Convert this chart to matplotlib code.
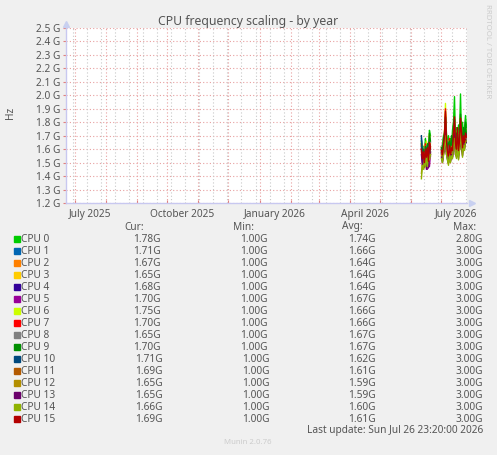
import matplotlib
matplotlib.use('Agg')
import matplotlib.pyplot as plt
import numpy as np
import pandas as pd

plt.rcParams['font.family'] = ['Noto Sans', 'DejaVu Sans']

# ---- data ----
names = ['CPU %d' % i for i in range(16)]
colors = ['#00CC00', '#0066B3', '#FF8000', '#FFCC00', '#330099', '#990099', '#CCFF00', '#FF0000',
          '#808080', '#008F00', '#00487D', '#B35A00', '#B38F00', '#6B006B', '#8FB300', '#B30000']
cur = ['1.78G', '1.71G', '1.67G', '1.65G', '1.68G', '1.70G', '1.75G', '1.70G',
       '1.65G', '1.70G', '1.71G', '1.69G', '1.65G', '1.65G', '1.66G', '1.69G']
mins = ['1.00G'] * 16
avgs = ['1.74G', '1.66G', '1.64G', '1.64G', '1.64G', '1.67G', '1.66G', '1.66G',
        '1.67G', '1.67G', '1.62G', '1.61G', '1.59G', '1.59G', '1.60G', '1.61G']
maxs = ['2.80G'] + ['3.00G'] * 15

days1 = pd.date_range('2026-06-11 12:00', periods=10, freq='D')
days2 = pd.date_range('2026-07-01 12:00', periods=26, freq='D')

seg1 = [
    [1.66, 1.58, 1.62, 1.56, 1.68, 1.60, 1.64, 1.58, 1.74, 1.70],
    [1.68, 1.56, 1.50, 1.62, 1.58, 1.55, 1.60, 1.52, 1.66, 1.60],
    [1.64, 1.52, 1.58, 1.50, 1.61, 1.56, 1.50, 1.64, 1.58, 1.61],
    [1.60, 1.55, 1.49, 1.60, 1.54, 1.62, 1.53, 1.64, 1.70, 1.62],
    [1.62, 1.50, 1.56, 1.48, 1.58, 1.52, 1.56, 1.48, 1.63, 1.58],
    [1.60, 1.54, 1.46, 1.57, 1.50, 1.56, 1.45, 1.58, 1.47, 1.56],
    [1.65, 1.58, 1.52, 1.63, 1.60, 1.66, 1.55, 1.62, 1.71, 1.64],
    [1.63, 1.57, 1.51, 1.59, 1.64, 1.56, 1.60, 1.53, 1.66, 1.62],
    [1.66, 1.60, 1.53, 1.61, 1.57, 1.63, 1.55, 1.65, 1.69, 1.65],
    [1.64, 1.57, 1.60, 1.52, 1.62, 1.56, 1.64, 1.58, 1.72, 1.66],
    [1.70, 1.56, 1.49, 1.57, 1.53, 1.59, 1.50, 1.60, 1.64, 1.58],
    [1.58, 1.52, 1.47, 1.55, 1.58, 1.50, 1.56, 1.49, 1.63, 1.57],
    [1.42, 1.50, 1.56, 1.46, 1.57, 1.52, 1.48, 1.58, 1.54, 1.56],
    [1.56, 1.48, 1.54, 1.47, 1.55, 1.45, 1.53, 1.46, 1.60, 1.55],
    [1.38, 1.48, 1.45, 1.53, 1.47, 1.56, 1.47, 1.58, 1.52, 1.56],
    [1.60, 1.53, 1.58, 1.50, 1.60, 1.54, 1.61, 1.51, 1.65, 1.60],
]

seg2 = [
    [1.62, 1.60, 1.70, 1.64, 1.84, 1.72, 1.62, 1.70, 1.60, 1.68, 1.62, 1.74, 1.80, 1.99, 1.66, 1.76, 1.64, 1.78, 1.70, 2.01, 1.68, 1.80, 1.70, 1.76, 1.85, 1.76],
    [1.60, 1.55, 1.64, 1.58, 1.80, 1.60, 1.56, 1.50, 1.66, 1.55, 1.64, 1.56, 1.68, 1.76, 1.58, 1.66, 1.56, 1.68, 1.60, 1.78, 1.64, 1.70, 1.60, 1.68, 1.64, 1.68],
    [1.58, 1.62, 1.56, 1.69, 1.82, 1.60, 1.66, 1.56, 1.63, 1.58, 1.66, 1.59, 1.74, 1.70, 1.63, 1.58, 1.70, 1.62, 1.65, 1.80, 1.60, 1.71, 1.64, 1.70, 1.65, 1.67],
    [1.59, 1.57, 1.66, 1.71, 1.86, 1.62, 1.59, 1.65, 1.57, 1.62, 1.56, 1.66, 1.71, 1.80, 1.60, 1.68, 1.72, 1.59, 1.70, 1.82, 1.66, 1.61, 1.72, 1.64, 1.71, 1.66],
    [1.57, 1.52, 1.60, 1.66, 1.78, 1.58, 1.57, 1.53, 1.62, 1.55, 1.60, 1.54, 1.68, 1.75, 1.56, 1.62, 1.58, 1.66, 1.60, 1.77, 1.70, 1.60, 1.66, 1.62, 1.70, 1.68],
    [1.56, 1.53, 1.58, 1.64, 1.76, 1.56, 1.62, 1.53, 1.58, 1.51, 1.60, 1.56, 1.67, 1.74, 1.66, 1.55, 1.67, 1.56, 1.64, 1.76, 1.62, 1.58, 1.67, 1.63, 1.69, 1.70],
    [1.62, 1.59, 1.64, 1.72, 1.94, 1.68, 1.61, 1.66, 1.60, 1.58, 1.66, 1.61, 1.72, 1.80, 1.66, 1.63, 1.74, 1.61, 1.68, 1.84, 1.74, 1.63, 1.71, 1.67, 1.73, 1.75],
    [1.61, 1.58, 1.63, 1.71, 1.90, 1.67, 1.60, 1.58, 1.68, 1.57, 1.62, 1.64, 1.71, 1.79, 1.62, 1.67, 1.71, 1.60, 1.67, 1.81, 1.73, 1.62, 1.74, 1.66, 1.72, 1.70],
    [1.60, 1.64, 1.58, 1.70, 1.83, 1.63, 1.66, 1.59, 1.65, 1.60, 1.63, 1.68, 1.64, 1.79, 1.70, 1.63, 1.67, 1.61, 1.72, 1.78, 1.73, 1.63, 1.71, 1.67, 1.73, 1.65],
    [1.61, 1.59, 1.68, 1.72, 1.84, 1.68, 1.61, 1.64, 1.66, 1.58, 1.70, 1.62, 1.78, 1.82, 1.66, 1.72, 1.68, 1.61, 1.74, 1.86, 1.74, 1.63, 1.76, 1.67, 1.80, 1.70],
    [1.58, 1.52, 1.59, 1.67, 1.74, 1.63, 1.52, 1.50, 1.61, 1.54, 1.59, 1.56, 1.67, 1.70, 1.61, 1.57, 1.66, 1.56, 1.62, 1.72, 1.68, 1.58, 1.67, 1.62, 1.70, 1.71],
    [1.57, 1.54, 1.59, 1.62, 1.80, 1.63, 1.56, 1.53, 1.58, 1.54, 1.62, 1.57, 1.64, 1.76, 1.62, 1.58, 1.64, 1.57, 1.63, 1.74, 1.66, 1.59, 1.68, 1.64, 1.70, 1.69],
    [1.55, 1.51, 1.57, 1.65, 1.72, 1.58, 1.54, 1.49, 1.59, 1.52, 1.57, 1.55, 1.62, 1.74, 1.56, 1.55, 1.66, 1.55, 1.61, 1.72, 1.64, 1.56, 1.66, 1.61, 1.68, 1.65],
    [1.54, 1.50, 1.56, 1.60, 1.75, 1.57, 1.53, 1.50, 1.58, 1.51, 1.56, 1.54, 1.65, 1.72, 1.58, 1.54, 1.60, 1.53, 1.60, 1.70, 1.62, 1.55, 1.65, 1.60, 1.67, 1.65],
    [1.53, 1.50, 1.55, 1.63, 1.70, 1.56, 1.52, 1.48, 1.57, 1.50, 1.55, 1.53, 1.64, 1.68, 1.57, 1.53, 1.62, 1.52, 1.59, 1.70, 1.64, 1.54, 1.63, 1.59, 1.66, 1.66],
    [1.59, 1.56, 1.62, 1.70, 1.88, 1.66, 1.58, 1.55, 1.63, 1.56, 1.61, 1.59, 1.72, 1.84, 1.64, 1.60, 1.76, 1.59, 1.66, 1.83, 1.72, 1.61, 1.70, 1.65, 1.72, 1.69],
]

yticks = [1.2, 1.3, 1.4, 1.5, 1.6, 1.7, 1.8, 1.9, 2.0, 2.1, 2.2, 2.3, 2.4, 2.5]
month_labels = ['July 2025', 'October 2025', 'January 2026', 'April 2026', 'July 2026']
month_dates = ['2025-07-01', '2025-10-01', '2026-01-01', '2026-04-01', '2026-07-01']

t_end = pd.Timestamp('2026-07-26 23:20')
t_start = t_end - pd.Timedelta(days=400)

# ---- figure ----
W, H = 497, 455
BG = '#F0F0F0'
TXT = '#555555'
fig = plt.figure(figsize=(W / 100, H / 100), dpi=100, facecolor=BG)

def fx(px):
    return px / W

def fy(py):
    return 1 - py / H

ax = fig.add_axes([fx(66), fy(203), fx(401), 175 / H])
ax.set_facecolor('white')

# grid
ax.set_xlim(t_start, t_end)
ax.set_ylim(1.2, 2.5)
for v in yticks:
    ax.axhline(v, color='#E8A0A0', lw=0.8, ls=(0, (1, 2)), zorder=1)
minor = pd.date_range('2025-06-29', t_end, freq='14D')
for d in minor:
    ax.axvline(d, color='#C8C8C8', lw=0.8, ls=(0, (1, 2)), zorder=1)
majors = pd.date_range('2025-07-01', t_end, freq='MS')
for d in majors:
    ax.axvline(d, color='#E8A0A0', lw=0.8, ls=(0, (1, 2)), zorder=1)

for i in range(16):
    ax.plot(days1, seg1[i], color=colors[i], lw=1, zorder=3)
    ax.plot(days2, seg2[i], color=colors[i], lw=1, zorder=3)

for s in ['top', 'right']:
    ax.spines[s].set_visible(False)
for s in ['left', 'bottom']:
    ax.spines[s].set_color('#C8C8F0')
    ax.spines[s].set_linewidth(1)
# arrows at ends of axes
ax.plot(1.012, 0, marker='>', color='#C8D0F0', ms=5, transform=ax.transAxes, clip_on=False)
ax.plot(0, 1.025, marker='^', color='#C8D0F0', ms=5, transform=ax.transAxes, clip_on=False)

ax.set_yticks(yticks)
ax.set_yticklabels(['%.1f G' % v for v in yticks])
ax.set_xticks(majors)
ax.set_xticklabels([])
ax.tick_params(axis='y', length=2, color='#E08080', labelsize=7.3, labelcolor=TXT, pad=2)
ax.tick_params(axis='x', length=2, color='#E08080', direction='in')
for lab, d in zip(month_labels, month_dates):
    xm = pd.Timestamp(d) + pd.Timedelta(days=15)
    ax.text(xm, -0.035, lab, transform=ax.get_xaxis_transform(), ha='center', va='top',
            fontsize=7.3, color=TXT)

# texts
fig.text(fx(248), fy(21), 'CPU frequency scaling - by year', ha='center', va='center',
         fontsize=8.8, color=TXT)
fig.text(fx(10), fy(113), 'Hz', ha='center', va='center', rotation=90, fontsize=7.3, color=TXT)
fig.text(fx(487), fy(51), 'RRDTOOL / TOBI OETIKER', ha='center', va='center', rotation=270,
         fontsize=5.6, color='#CCCCCC')

# legend table
hy = 227
fig.text(fx(144), fy(hy), 'Cur:', ha='right', va='center', fontsize=7.3, color=TXT)
fig.text(fx(254), fy(hy), 'Min:', ha='right', va='center', fontsize=7.3, color=TXT)
fig.text(fx(363), fy(hy), 'Avg:', ha='right', va='center', fontsize=7.3, color=TXT)
fig.text(fx(476), fy(hy), 'Max:', ha='right', va='center', fontsize=7.3, color=TXT)
for i in range(16):
    y = 239 + 12 * i
    fig.patches.append(plt.Rectangle((fx(14), fy(y + 3)), fx(6), 6 / H, color=colors[i],
                                     transform=fig.transFigure, figure=fig))
    fig.text(fx(21), fy(y), names[i], ha='left', va='center', fontsize=7.3, color=TXT)
    off = 2 if i >= 10 else 0
    fig.text(fx(161 + off), fy(y), cur[i], ha='right', va='center', fontsize=7.3, color=TXT)
    fig.text(fx(268 + off), fy(y), mins[i], ha='right', va='center', fontsize=7.3, color=TXT)
    fig.text(fx(376), fy(y), avgs[i], ha='right', va='center', fontsize=7.3, color=TXT)
    fig.text(fx(483), fy(y), maxs[i], ha='right', va='center', fontsize=7.3, color=TXT)

fig.text(fx(483), fy(431), 'Last update: Sun Jul 26 23:20:00 2026', ha='right', va='center',
         fontsize=7.3, color=TXT)
fig.text(fx(248), fy(443), 'Munin 2.0.76', ha='center', va='center', fontsize=5.6, color='#CCCCCC')

fig.savefig('out.png', dpi=100, facecolor=BG)
